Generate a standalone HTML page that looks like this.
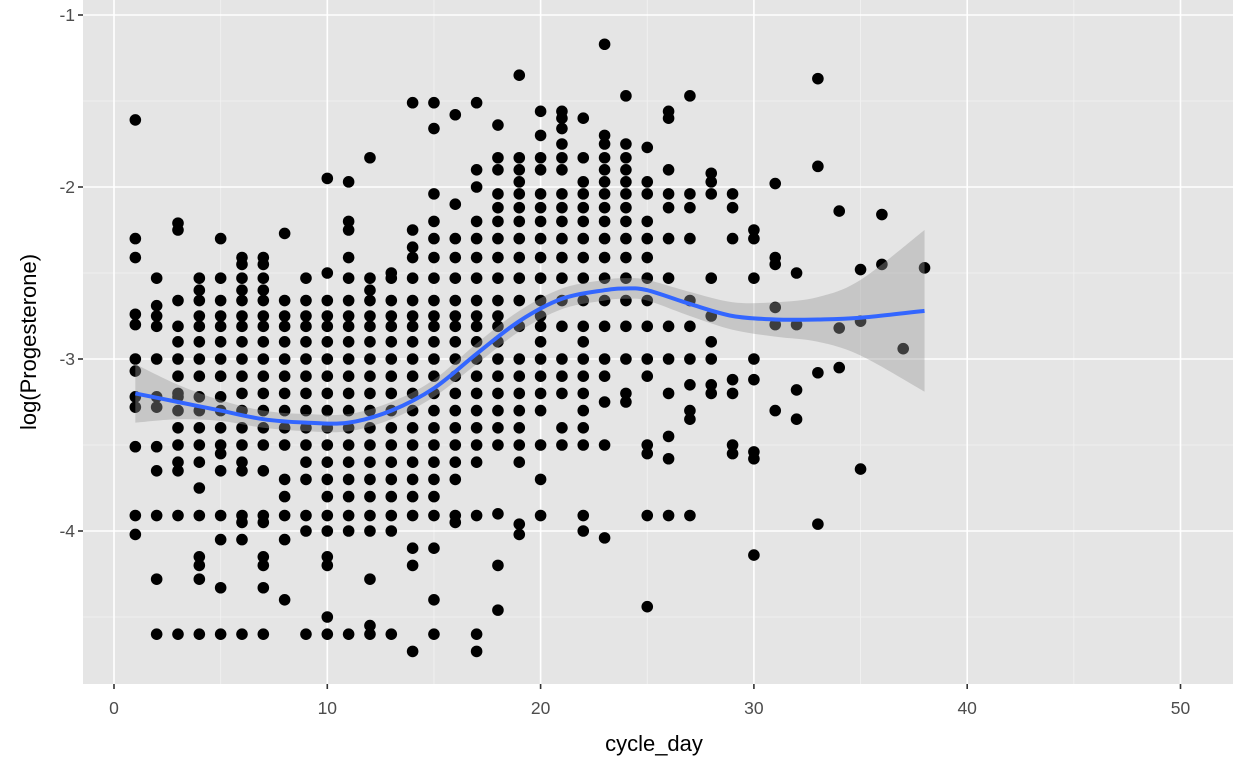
<!DOCTYPE html>
<html><head><meta charset="utf-8"><style>
html,body{margin:0;padding:0;background:#fff;}
svg{display:block;font-family:"Liberation Sans",Arial,sans-serif;}
</style></head><body>
<svg id="chart" width="1248" height="768"></svg>
<script>
const xTicks=[0,10,20,30,40,50];
const yTicks=[-1,-2,-3,-4];
const days=[1,2,3,4,5,6,7,8,9,10,11,12,13,14,15,16,17,18,19,20,21,22,23,24,25,26,27,28,29,30,31,32,33,34,35,36,37,38];
const dayValues=[
[-1.61,-2.30,-2.41,-2.74,-2.80,-3.0,-3.07,-3.22,-3.28,-3.51,-3.91,-4.02],
[-2.53,-2.69,-2.75,-2.81,-3.0,-3.22,-3.28,-3.51,-3.65,-3.91,-4.28,-4.6],
[-2.21,-2.25,-2.66,-2.81,-2.9,-3.0,-3.1,-3.2,-3.22,-3.3,-3.4,-3.5,-3.6,-3.65,-3.91,-4.6],
[-2.53,-2.6,-2.66,-2.75,-2.81,-2.9,-3.0,-3.1,-3.22,-3.3,-3.4,-3.5,-3.6,-3.75,-3.91,-4.15,-4.2,-4.28,-4.6],
[-2.3,-2.53,-2.66,-2.75,-2.81,-2.9,-3.0,-3.1,-3.22,-3.3,-3.4,-3.5,-3.55,-3.65,-3.91,-4.05,-4.33,-4.6],
[-2.41,-2.45,-2.53,-2.6,-2.66,-2.75,-2.81,-2.9,-3.0,-3.1,-3.2,-3.3,-3.4,-3.5,-3.6,-3.65,-3.91,-3.95,-4.05,-4.6],
[-2.41,-2.45,-2.53,-2.6,-2.66,-2.75,-2.81,-2.9,-3.0,-3.1,-3.2,-3.3,-3.4,-3.5,-3.65,-3.91,-3.95,-4.15,-4.2,-4.33,-4.6],
[-2.27,-2.66,-2.75,-2.81,-2.9,-3.0,-3.1,-3.2,-3.3,-3.4,-3.5,-3.7,-3.8,-3.91,-4.05,-4.4],
[-2.53,-2.66,-2.75,-2.81,-2.9,-3.0,-3.1,-3.2,-3.3,-3.4,-3.5,-3.6,-3.7,-3.91,-4.0,-4.6],
[-1.95,-2.5,-2.66,-2.75,-2.81,-2.9,-3.0,-3.1,-3.2,-3.3,-3.4,-3.5,-3.6,-3.7,-3.8,-3.91,-4.0,-4.15,-4.2,-4.5,-4.6],
[-1.97,-2.2,-2.25,-2.41,-2.53,-2.66,-2.75,-2.81,-2.9,-3.0,-3.1,-3.2,-3.3,-3.4,-3.5,-3.6,-3.7,-3.8,-3.91,-4.0,-4.6],
[-1.83,-2.53,-2.6,-2.66,-2.75,-2.81,-2.9,-3.0,-3.1,-3.2,-3.3,-3.4,-3.5,-3.6,-3.7,-3.8,-3.91,-4.0,-4.28,-4.55,-4.6],
[-2.5,-2.53,-2.66,-2.75,-2.81,-2.9,-3.0,-3.1,-3.2,-3.3,-3.4,-3.5,-3.6,-3.7,-3.8,-3.91,-4.0,-4.6],
[-1.51,-2.25,-2.35,-2.41,-2.53,-2.66,-2.75,-2.81,-2.9,-3.0,-3.1,-3.2,-3.3,-3.4,-3.5,-3.6,-3.7,-3.8,-3.91,-4.1,-4.2,-4.7],
[-1.51,-1.66,-2.04,-2.2,-2.3,-2.41,-2.53,-2.66,-2.75,-2.81,-2.9,-3.0,-3.1,-3.2,-3.3,-3.4,-3.5,-3.6,-3.7,-3.8,-3.91,-4.1,-4.4,-4.6],
[-1.58,-2.1,-2.3,-2.41,-2.53,-2.66,-2.75,-2.81,-2.9,-3.0,-3.1,-3.2,-3.3,-3.4,-3.5,-3.6,-3.7,-3.91,-3.95],
[-1.51,-1.9,-2.0,-2.2,-2.3,-2.41,-2.53,-2.66,-2.75,-2.81,-2.9,-3.0,-3.1,-3.2,-3.3,-3.4,-3.5,-3.6,-3.91,-4.6,-4.7],
[-1.64,-1.83,-1.9,-2.04,-2.12,-2.2,-2.3,-2.41,-2.53,-2.66,-2.75,-2.81,-2.9,-3.0,-3.1,-3.2,-3.3,-3.4,-3.5,-3.9,-4.2,-4.46],
[-1.35,-1.83,-1.9,-1.97,-2.04,-2.12,-2.2,-2.3,-2.41,-2.53,-2.66,-2.81,-3.0,-3.1,-3.2,-3.3,-3.4,-3.5,-3.6,-3.96,-4.02],
[-1.56,-1.7,-1.83,-1.9,-2.04,-2.12,-2.2,-2.3,-2.41,-2.53,-2.66,-2.75,-2.81,-2.9,-3.0,-3.1,-3.2,-3.3,-3.5,-3.7,-3.91],
[-1.56,-1.6,-1.66,-1.75,-1.83,-1.9,-2.04,-2.12,-2.2,-2.3,-2.41,-2.53,-2.66,-2.81,-3.0,-3.1,-3.2,-3.4,-3.5],
[-1.6,-1.83,-1.97,-2.04,-2.12,-2.2,-2.3,-2.41,-2.53,-2.66,-2.81,-2.9,-3.0,-3.1,-3.2,-3.3,-3.4,-3.5,-3.91,-4.0],
[-1.17,-1.7,-1.75,-1.83,-1.9,-1.97,-2.04,-2.12,-2.2,-2.3,-2.41,-2.53,-2.66,-2.81,-3.0,-3.1,-3.25,-3.5,-4.04],
[-1.47,-1.75,-1.83,-1.9,-1.97,-2.04,-2.12,-2.2,-2.3,-2.41,-2.53,-2.66,-2.81,-3.0,-3.2,-3.25],
[-1.77,-1.97,-2.04,-2.2,-2.3,-2.41,-2.53,-2.66,-2.81,-3.0,-3.1,-3.5,-3.55,-3.91,-4.44],
[-1.56,-1.6,-1.9,-2.04,-2.12,-2.3,-2.53,-2.81,-3.0,-3.2,-3.45,-3.58,-3.91],
[-1.47,-2.04,-2.12,-2.3,-2.66,-2.81,-3.0,-3.15,-3.3,-3.35,-3.91],
[-1.92,-1.97,-2.04,-2.53,-2.75,-2.9,-3.0,-3.15,-3.2],
[-2.04,-2.12,-2.3,-3.12,-3.2,-3.5,-3.55],
[-2.25,-2.3,-2.53,-3.0,-3.12,-3.54,-3.58,-4.14],
[-1.98,-2.41,-2.45,-2.7,-2.8,-3.3],
[-2.5,-2.8,-3.18,-3.35],
[-1.37,-1.88,-3.08,-3.96],
[-2.14,-2.82,-3.05],
[-2.48,-2.78,-3.64],
[-2.16,-2.45],
[-2.94],
[-2.47]
];
const smoothX=[1,3,5,7,9,11,13,15,17,19,21,23,24,25,27,29,31,33,35,38];
const smoothY=[-3.2,-3.25,-3.3,-3.35,-3.37,-3.37,-3.3,-3.17,-2.97,-2.78,-2.65,-2.6,-2.59,-2.6,-2.68,-2.75,-2.77,-2.77,-2.76,-2.72];
const smoothSE=[0.17,0.1,0.06,0.05,0.05,0.05,0.05,0.05,0.06,0.06,0.06,0.06,0.06,0.06,0.07,0.08,0.1,0.13,0.22,0.47];

const NS='http://www.w3.org/2000/svg';
const svg=document.getElementById('chart');
const L=83,R=1233,T=0,B=684;
const xs=v=>114+v*21.33;
const ys=v=>15-(v+1)*172;
function el(tag,attrs,parent){const e=document.createElementNS(NS,tag);for(const k in attrs)e.setAttribute(k,attrs[k]);(parent||svg).appendChild(e);return e;}

const panel=el('rect',{x:L,y:T,width:R-L,height:B-T,fill:'#e5e5e5'});


const grid=el('g',{});


[-1.5,-2.5,-3.5,-4.5].forEach(v=>el('line',{x1:L,x2:R,y1:ys(v),y2:ys(v),stroke:'#f2f2f2','stroke-width':0.8},grid));
[5,15,25,35,45].forEach(v=>el('line',{y1:T,y2:B,x1:xs(v),x2:xs(v),stroke:'#f2f2f2','stroke-width':0.8},grid));
yTicks.forEach(v=>el('line',{x1:L,x2:R,y1:ys(v),y2:ys(v),stroke:'#fff','stroke-width':1.6},grid));
xTicks.forEach(v=>el('line',{y1:T,y2:B,x1:xs(v),x2:xs(v),stroke:'#fff','stroke-width':1.6},grid));

const pts=el('g',{});


days.forEach((d,i)=>{dayValues[i].forEach(v=>{
  const c=el('circle',{cx:xs(d),cy:ys(v),r:5.8,fill:'#000'},pts);
  
  
});});

let up=smoothX.map((x,i)=>[xs(x),ys(smoothY[i]+smoothSE[i])]);
let lo=smoothX.map((x,i)=>[xs(x),ys(smoothY[i]-smoothSE[i])]).reverse();
function curve(p){let d='M'+p[0][0]+','+p[0][1];for(let i=1;i<p.length;i++){const p0=p[i-2]||p[i-1],p1=p[i-1],p2=p[i],p3=p[i+1]||p[i];d+=' C'+(p1[0]+(p2[0]-p0[0])/6)+','+(p1[1]+(p2[1]-p0[1])/6)+' '+(p2[0]-(p3[0]-p1[0])/6)+','+(p2[1]-(p3[1]-p1[1])/6)+' '+p2[0]+','+p2[1];}return d;}
const band=el('path',{d:curve(up)+' L'+curve(lo).slice(1)+' Z',fill:'#999','fill-opacity':0.4});


const line=el('path',{d:curve(smoothX.map((x,i)=>[xs(x),ys(smoothY[i])])),fill:'none',stroke:'#3366FF','stroke-width':4});



const ax=el('g',{});


xTicks.forEach(v=>{el('line',{x1:xs(v),x2:xs(v),y1:B,y2:B+5,stroke:'#333','stroke-width':1.6},ax);
  const t=el('text',{x:xs(v),y:B+30,'text-anchor':'middle','font-size':17.5,fill:'#4d4d4d'},ax);t.textContent=v;
  
  });
yTicks.forEach(v=>{el('line',{x1:L-5,x2:L,y1:ys(v),y2:ys(v),stroke:'#333','stroke-width':1.6},ax);
  const t=el('text',{x:L-8,y:ys(v)+6,'text-anchor':'end','font-size':17.5,fill:'#4d4d4d'},ax);t.textContent=v;
  
  });
const xt=el('text',{x:(L+R)/2-4,y:751,'text-anchor':'middle','font-size':22,fill:'#000'});xt.textContent='cycle_day';


const yt=el('text',{x:0,y:0,transform:'translate(36,'+(B/2)+') rotate(-90)','text-anchor':'middle','font-size':22,fill:'#000'});yt.textContent='log(Progesterone)';


</script>
</body></html>
